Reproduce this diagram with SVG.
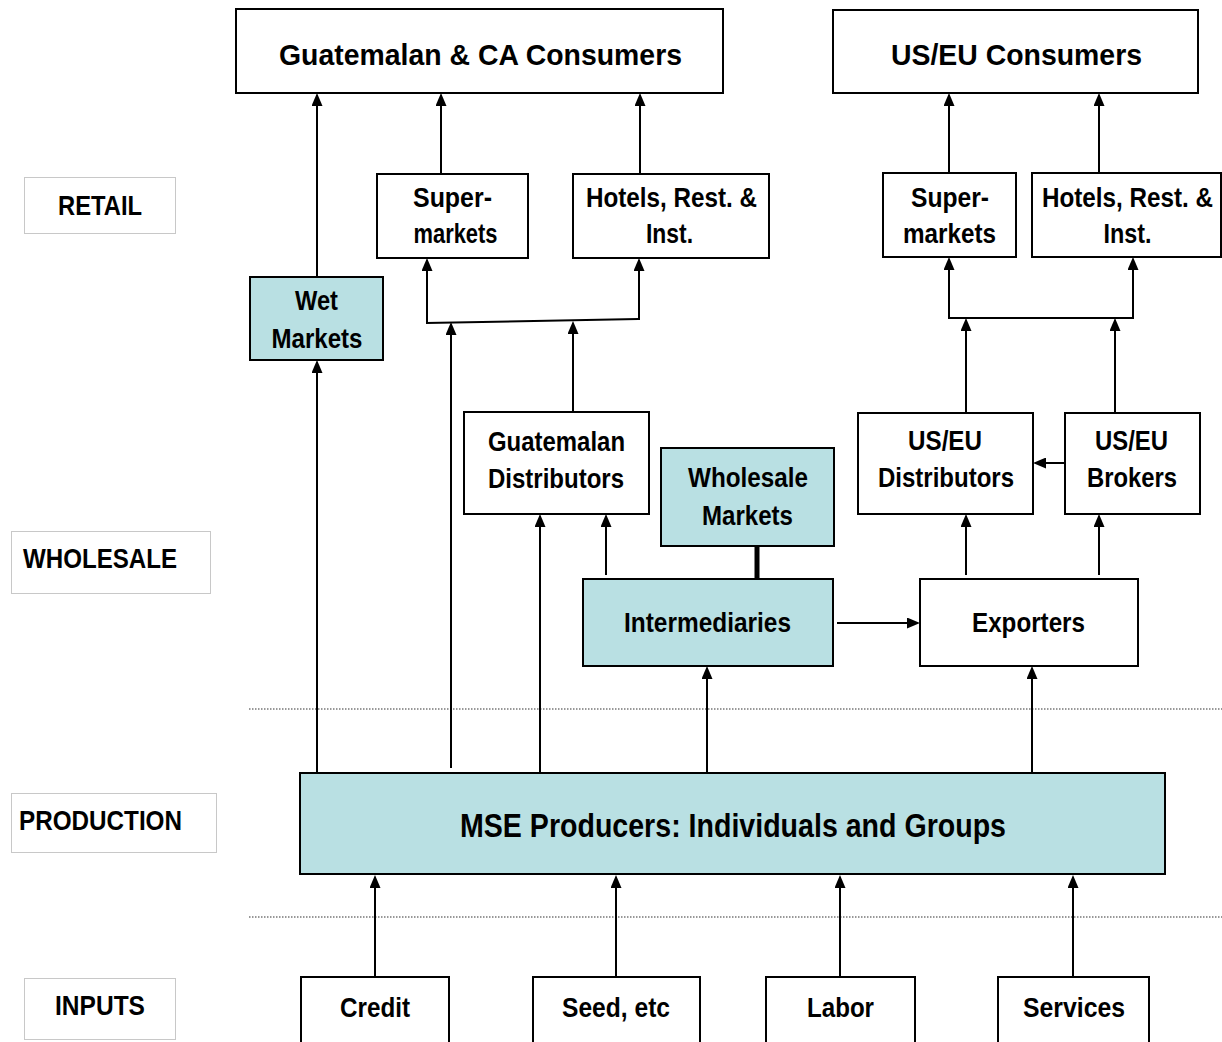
<svg xmlns="http://www.w3.org/2000/svg" width="1222" height="1042" viewBox="0 0 1222 1042">
<style>
.box{fill:#fff;stroke:#000;stroke-width:2}
.teal{fill:#b9e0e3;stroke:#000;stroke-width:2}
.lbl{fill:#fff;stroke:#c8c8c8;stroke-width:1}
.t{font-family:"Liberation Sans",Arial,sans-serif;font-weight:bold;fill:#000;text-anchor:middle}
.n{font-size:28px}
.h{font-size:30px}
.m{font-size:34px}
.c{fill:none;stroke:#000;stroke-width:2}
.a{marker-end:url(#ah)}
.dot{stroke:#777;stroke-width:1.5;stroke-dasharray:1.5 1.5;fill:none}
</style>
<defs>
<marker id="ah" viewBox="0 0 13 11" refX="9" refY="5.5" markerWidth="13" markerHeight="11" markerUnits="userSpaceOnUse" orient="auto">
<path d="M0,0 L13,5.5 L0,11 z" fill="#000"/>
</marker>
</defs>
<rect width="1222" height="1042" fill="#fff"/>

<g id="dividers">
<line class="dot" x1="249" y1="709" x2="1222" y2="709"/>
<line class="dot" x1="249" y1="917" x2="1222" y2="917"/>
</g>

<g id="label-retail"><rect class="lbl" x="24.5" y="177.5" width="151" height="56"/><text class="t n" x="100" y="215" textLength="84" lengthAdjust="spacingAndGlyphs">RETAIL</text></g>
<g id="label-wholesale"><rect class="lbl" x="11.5" y="531.5" width="199" height="62"/><text class="t n" x="100" y="568" textLength="154" lengthAdjust="spacingAndGlyphs">WHOLESALE</text></g>
<g id="label-production"><rect class="lbl" x="11.5" y="793.5" width="205" height="59"/><text class="t n" x="100.5" y="830" textLength="163" lengthAdjust="spacingAndGlyphs">PRODUCTION</text></g>
<g id="label-inputs"><rect class="lbl" x="24.5" y="978.5" width="151" height="61"/><text class="t n" x="100" y="1015" textLength="90" lengthAdjust="spacingAndGlyphs">INPUTS</text></g>

<g id="connectors">
<line class="c a" x1="317" y1="277" x2="317" y2="97"/>
<line class="c a" x1="441" y1="174" x2="441" y2="97"/>
<line class="c a" x1="640" y1="174" x2="640" y2="97"/>
<line class="c" x1="426" y1="323" x2="638" y2="319"/>
<line class="c a" x1="427" y1="323" x2="427" y2="262"/>
<line class="c a" x1="639" y1="320" x2="639" y2="262"/>
<line class="c a" x1="451" y1="768" x2="451" y2="326"/>
<line class="c a" x1="573" y1="412" x2="573" y2="325"/>
<line class="c a" x1="317" y1="772" x2="317" y2="364"/>
<line class="c a" x1="540" y1="772" x2="540" y2="518"/>
<line class="c a" x1="606" y1="575" x2="606" y2="518"/>
<line x1="757" y1="546" x2="757" y2="579" stroke="#000" stroke-width="5"/>
<line class="c a" x1="837" y1="623" x2="916" y2="623"/>
<line class="c a" x1="707" y1="772" x2="707" y2="670"/>
<line class="c a" x1="1032" y1="772" x2="1032" y2="670"/>
<line class="c a" x1="966" y1="575" x2="966" y2="518"/>
<line class="c a" x1="1099" y1="575" x2="1099" y2="518"/>
<line class="c a" x1="1065" y1="463" x2="1037" y2="463"/>
<line class="c a" x1="966" y1="413" x2="966" y2="322"/>
<line class="c a" x1="1115" y1="413" x2="1115" y2="322"/>
<polyline class="c" points="949,319 949,318 1133,318 1133,319"/>
<line class="c a" x1="949" y1="318" x2="949" y2="261"/>
<line class="c a" x1="1133" y1="318" x2="1133" y2="261"/>
<line class="c a" x1="949" y1="173" x2="949" y2="97"/>
<line class="c a" x1="1099" y1="173" x2="1099" y2="97"/>
<line class="c a" x1="375" y1="977" x2="375" y2="879"/>
<line class="c a" x1="616" y1="977" x2="616" y2="879"/>
<line class="c a" x1="840" y1="977" x2="840" y2="879"/>
<line class="c a" x1="1073" y1="977" x2="1073" y2="879"/>
</g>

<g id="gt-consumers"><rect class="box" x="236" y="9" width="487" height="84"/><text class="t h" x="480.5" y="65" textLength="403" lengthAdjust="spacingAndGlyphs">Guatemalan &amp; CA Consumers</text></g>
<g id="us-consumers"><rect class="box" x="833" y="10" width="365" height="83"/><text class="t h" x="1016.5" y="65" textLength="251" lengthAdjust="spacingAndGlyphs">US/EU Consumers</text></g>

<g id="gt-supermarkets"><rect class="box" x="377" y="174" width="151" height="84"/><text class="t n" x="452.5" y="207" textLength="79" lengthAdjust="spacingAndGlyphs">Super-</text><text class="t n" x="455.5" y="243" textLength="84" lengthAdjust="spacingAndGlyphs">markets</text></g>
<g id="gt-hotels"><rect class="box" x="573" y="174" width="196" height="84"/><text class="t n" x="671.5" y="207" textLength="171" lengthAdjust="spacingAndGlyphs">Hotels, Rest. &amp;</text><text class="t n" x="669.5" y="243" textLength="47" lengthAdjust="spacingAndGlyphs">Inst.</text></g>
<g id="us-supermarkets"><rect class="box" x="883" y="173" width="133" height="84"/><text class="t n" x="950" y="207" textLength="78" lengthAdjust="spacingAndGlyphs">Super-</text><text class="t n" x="949.5" y="243" textLength="93" lengthAdjust="spacingAndGlyphs">markets</text></g>
<g id="us-hotels"><rect class="box" x="1032" y="173" width="189" height="84"/><text class="t n" x="1127.5" y="207" textLength="171" lengthAdjust="spacingAndGlyphs">Hotels, Rest. &amp;</text><text class="t n" x="1127.5" y="243" textLength="48" lengthAdjust="spacingAndGlyphs">Inst.</text></g>

<g id="wet-markets"><rect class="teal" x="250" y="277" width="133" height="83"/><text class="t n" x="316.5" y="310" textLength="43" lengthAdjust="spacingAndGlyphs">Wet</text><text class="t n" x="317" y="348" textLength="91" lengthAdjust="spacingAndGlyphs">Markets</text></g>

<g id="gt-distributors"><rect class="box" x="464" y="412" width="185" height="102"/><text class="t n" x="556.5" y="451" textLength="137" lengthAdjust="spacingAndGlyphs">Guatemalan</text><text class="t n" x="556" y="488" textLength="136" lengthAdjust="spacingAndGlyphs">Distributors</text></g>
<g id="wholesale-markets"><rect class="teal" x="661" y="448" width="173" height="98"/><text class="t n" x="748" y="487" textLength="120" lengthAdjust="spacingAndGlyphs">Wholesale</text><text class="t n" x="747.5" y="525" textLength="91" lengthAdjust="spacingAndGlyphs">Markets</text></g>
<g id="intermediaries"><rect class="teal" x="583" y="579" width="250" height="87"/><text class="t n" x="707.5" y="632" textLength="167" lengthAdjust="spacingAndGlyphs">Intermediaries</text></g>
<g id="us-distributors"><rect class="box" x="858" y="413" width="175" height="101"/><text class="t n" x="945" y="450" textLength="74" lengthAdjust="spacingAndGlyphs">US/EU</text><text class="t n" x="946" y="487" textLength="136" lengthAdjust="spacingAndGlyphs">Distributors</text></g>
<g id="us-brokers"><rect class="box" x="1065" y="413" width="135" height="101"/><text class="t n" x="1131.5" y="450" textLength="73" lengthAdjust="spacingAndGlyphs">US/EU</text><text class="t n" x="1132" y="487" textLength="90" lengthAdjust="spacingAndGlyphs">Brokers</text></g>
<g id="exporters"><rect class="box" x="920" y="579" width="218" height="87"/><text class="t n" x="1028.5" y="632" textLength="113" lengthAdjust="spacingAndGlyphs">Exporters</text></g>

<g id="mse-producers"><rect class="teal" x="300" y="773" width="865" height="101"/><text class="t m" x="733" y="837" textLength="546" lengthAdjust="spacingAndGlyphs">MSE Producers: Individuals and Groups</text></g>

<g id="credit"><rect class="box" x="301" y="977" width="148" height="80"/><text class="t n" x="375" y="1017" textLength="70" lengthAdjust="spacingAndGlyphs">Credit</text></g>
<g id="seed"><rect class="box" x="533" y="977" width="167" height="80"/><text class="t n" x="616" y="1017" textLength="108" lengthAdjust="spacingAndGlyphs">Seed, etc</text></g>
<g id="labor"><rect class="box" x="766" y="977" width="149" height="80"/><text class="t n" x="840.5" y="1017" textLength="67" lengthAdjust="spacingAndGlyphs">Labor</text></g>
<g id="services"><rect class="box" x="998" y="977" width="151" height="80"/><text class="t n" x="1074" y="1017" textLength="102" lengthAdjust="spacingAndGlyphs">Services</text></g>
</svg>
